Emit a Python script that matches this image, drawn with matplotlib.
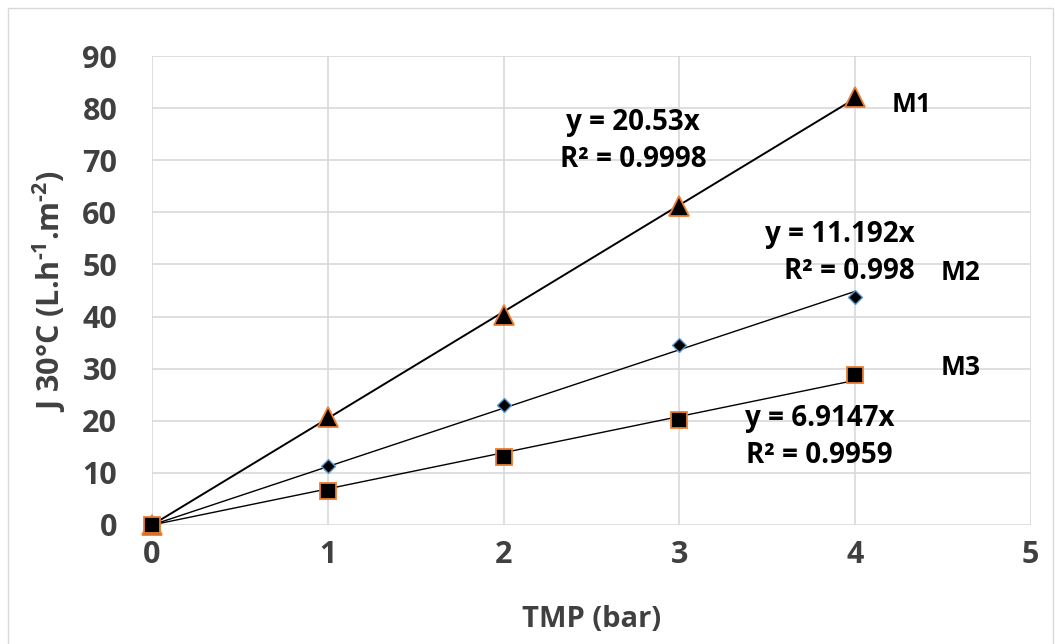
import matplotlib
matplotlib.use("Agg")
import matplotlib.pyplot as plt
import numpy as np
from matplotlib.patches import Rectangle

plt.rcParams['font.family'] = ['Open Sans', 'DejaVu Sans']
plt.rcParams['font.weight'] = 'bold'
plt.rcParams['mathtext.fontset'] = 'custom'
plt.rcParams['mathtext.rm'] = 'Open Sans:bold'
plt.rcParams['mathtext.bf'] = 'Open Sans:bold'
plt.rcParams['mathtext.default'] = 'bf'

tmp = [0, 1, 2, 3, 4]
m1 = [0, 20.8, 40.3, 61.2, 82.2]
m2 = [0, 11.3, 23.1, 34.5, 43.8]
m3 = [0, 6.6, 13.1, 20.2, 28.7]
series_names = ['M1', 'M2', 'M3']
eq_labels = ['y = 20.53x\nR² = 0.9998', 'y = 11.192x\nR² = 0.998', 'y = 6.9147x\nR² = 0.9959']

fig = plt.figure(figsize=(10.55, 6.44), dpi=100)
ax = fig.add_axes([0.1441, 0.1848, 0.8329, 0.7282])

fig.patches.append(Rectangle((0.008, -0.01), 0.99, 0.998, transform=fig.transFigure,
                             fill=False, edgecolor='#D9D9D9', linewidth=1.0))

x = np.array(tmp, dtype=float)
orange = '#ED7D31'
blue = '#5B9BD5'

def fit_origin(xv, yv):
    yv = np.array(yv, dtype=float)
    return np.sum(xv * yv) / np.sum(xv * xv)

for yv, lw in [(m1, 1.4), (m2, 1.0), (m3, 1.0)]:
    s = fit_origin(x, yv)
    ax.plot([x.min(), x.max()], [0, s * x.max()], color='black', lw=lw, zorder=3)

ax.plot(x, m1, ls='none', marker='^', ms=14, mfc='black', mec=orange, mew=1.3, zorder=4, clip_on=False)
ax.plot(x, m2, ls='none', marker='D', ms=7, mfc='black', mec=blue, mew=1.0, zorder=5, clip_on=False)
ax.plot(x, m3, ls='none', marker='s', ms=11, mfc='black', mec=orange, mew=1.3, zorder=6, clip_on=False)

ax.set_xlim(0, 5)
ax.set_ylim(0, 90)
ax.set_xticks(range(0, 6))
ax.set_yticks(range(0, 91, 10))
ax.grid(True, color='#D9D9D9', lw=1.2)
ax.set_axisbelow(True)
for sp in ax.spines.values():
    sp.set_visible(False)
ax.tick_params(axis='y', length=0, labelsize=22, labelcolor='#404040', pad=25)
ax.tick_params(axis='x', length=0, labelsize=22, labelcolor='#404040', pad=11)
for lab in ax.get_xticklabels() + ax.get_yticklabels():
    lab.set_fontweight('bold')

ax.set_xlabel('TMP (bar)', fontsize=21, fontweight='bold', color='#404040', labelpad=25)
ax.set_ylabel(r'J 30°C (L.h$^{\text{-1}}$.m$^{\text{-2}}$)', fontsize=22, fontweight='bold',
              color='#404040', labelpad=10)

def fx(px):
    return (px - 152) / ((1031 - 152) / 5)

def fy(py):
    return (525 - py) / ((525 - 56) / 90)

ax.text(fx(633), fy(141), eq_labels[0], ha='center', va='center', fontsize=20,
        fontweight='bold', linespacing=1.4)
ax.text(fx(840), fy(253), eq_labels[1], ha='center', va='center', fontsize=20,
        fontweight='bold', linespacing=1.4, multialignment='right')
ax.text(fx(820), fy(437), eq_labels[2], ha='center', va='center', fontsize=20,
        fontweight='bold', linespacing=1.4)

ax.text(fx(912), fy(104), series_names[0], ha='center', va='center', fontsize=19, fontweight='bold')
ax.text(fx(961), fy(272), series_names[1], ha='center', va='center', fontsize=19, fontweight='bold')
ax.text(fx(961), fy(367), series_names[2], ha='center', va='center', fontsize=19, fontweight='bold')

fig.savefig('out.png', dpi=100)
